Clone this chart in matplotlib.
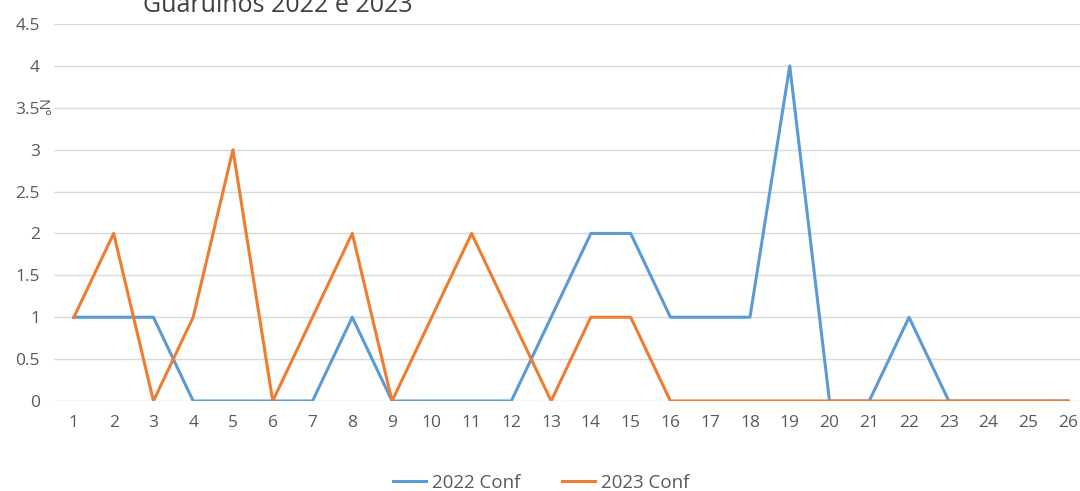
import matplotlib
matplotlib.use('Agg')
import matplotlib.pyplot as plt

semanas = list(range(1, 27))
conf_2022 = [1, 1, 1, 0, 0, 0, 0, 1, 0, 0, 0, 0, 1, 2, 2, 1, 1, 1, 4, 0, 0, 1, 0, 0, 0, 0]
conf_2023 = [1, 2, 0, 1, 3, 0, 1, 2, 0, 1, 2, 1, 0, 1, 1, 0, 0, 0, 0, 0, 0, 0, 0, 0, 0, 0]
y_ticks = [0, 0.5, 1, 1.5, 2, 2.5, 3, 3.5, 4, 4.5]

plt.rcParams['font.family'] = ['Open Sans', 'DejaVu Sans']
cinza = '#595959'

fig = plt.figure(figsize=(10.8, 4.91), dpi=100)
ax = fig.add_axes([54 / 1080, 90 / 491, 1034 / 1080, 377 / 491])

ax.plot(semanas, conf_2022, color='#5B9BD5', lw=2.2, label='2022 Conf', solid_joinstyle='round')
ax.plot(semanas, conf_2023, color='#ED7D31', lw=2.2, label='2023 Conf', solid_joinstyle='round')

ax.set_xlim(0.5, 26.5)
ax.set_ylim(0, 4.5)
ax.set_yticks(y_ticks)
ax.set_yticklabels(['0', '0.5', '1', '1.5', '2', '2.5', '3', '3.5', '4', '4.5'])
ax.set_xticks(semanas)
ax.tick_params(length=0, colors=cinza, labelsize=12.5)
ax.tick_params(axis='x', pad=10)
ax.tick_params(axis='y', pad=10)
ax.grid(axis='y', color='#D9D9D9', lw=1)
ax.set_axisbelow(True)
for s in ax.spines.values():
    s.set_visible(False)

# titulo cortado no topo, como na imagem original
fig.text(278 / 1080, 1 - 5 / 491, 'Guarulhos 2022 e 2023', ha='center', va='center',
         fontsize=18, color='#404040')
fig.text(41 / 1080, 1 - 108 / 491, 'N°', rotation=270, ha='center', va='center',
         fontsize=11, color=cinza)

fig.legend(loc='center', bbox_to_anchor=(541 / 1080, 1 - 483 / 491), ncol=2,
           frameon=False, fontsize=13.5, labelcolor=cinza, handlelength=1.8,
           columnspacing=2.2, handletextpad=0.3)

fig.savefig('out.png', dpi=100)
